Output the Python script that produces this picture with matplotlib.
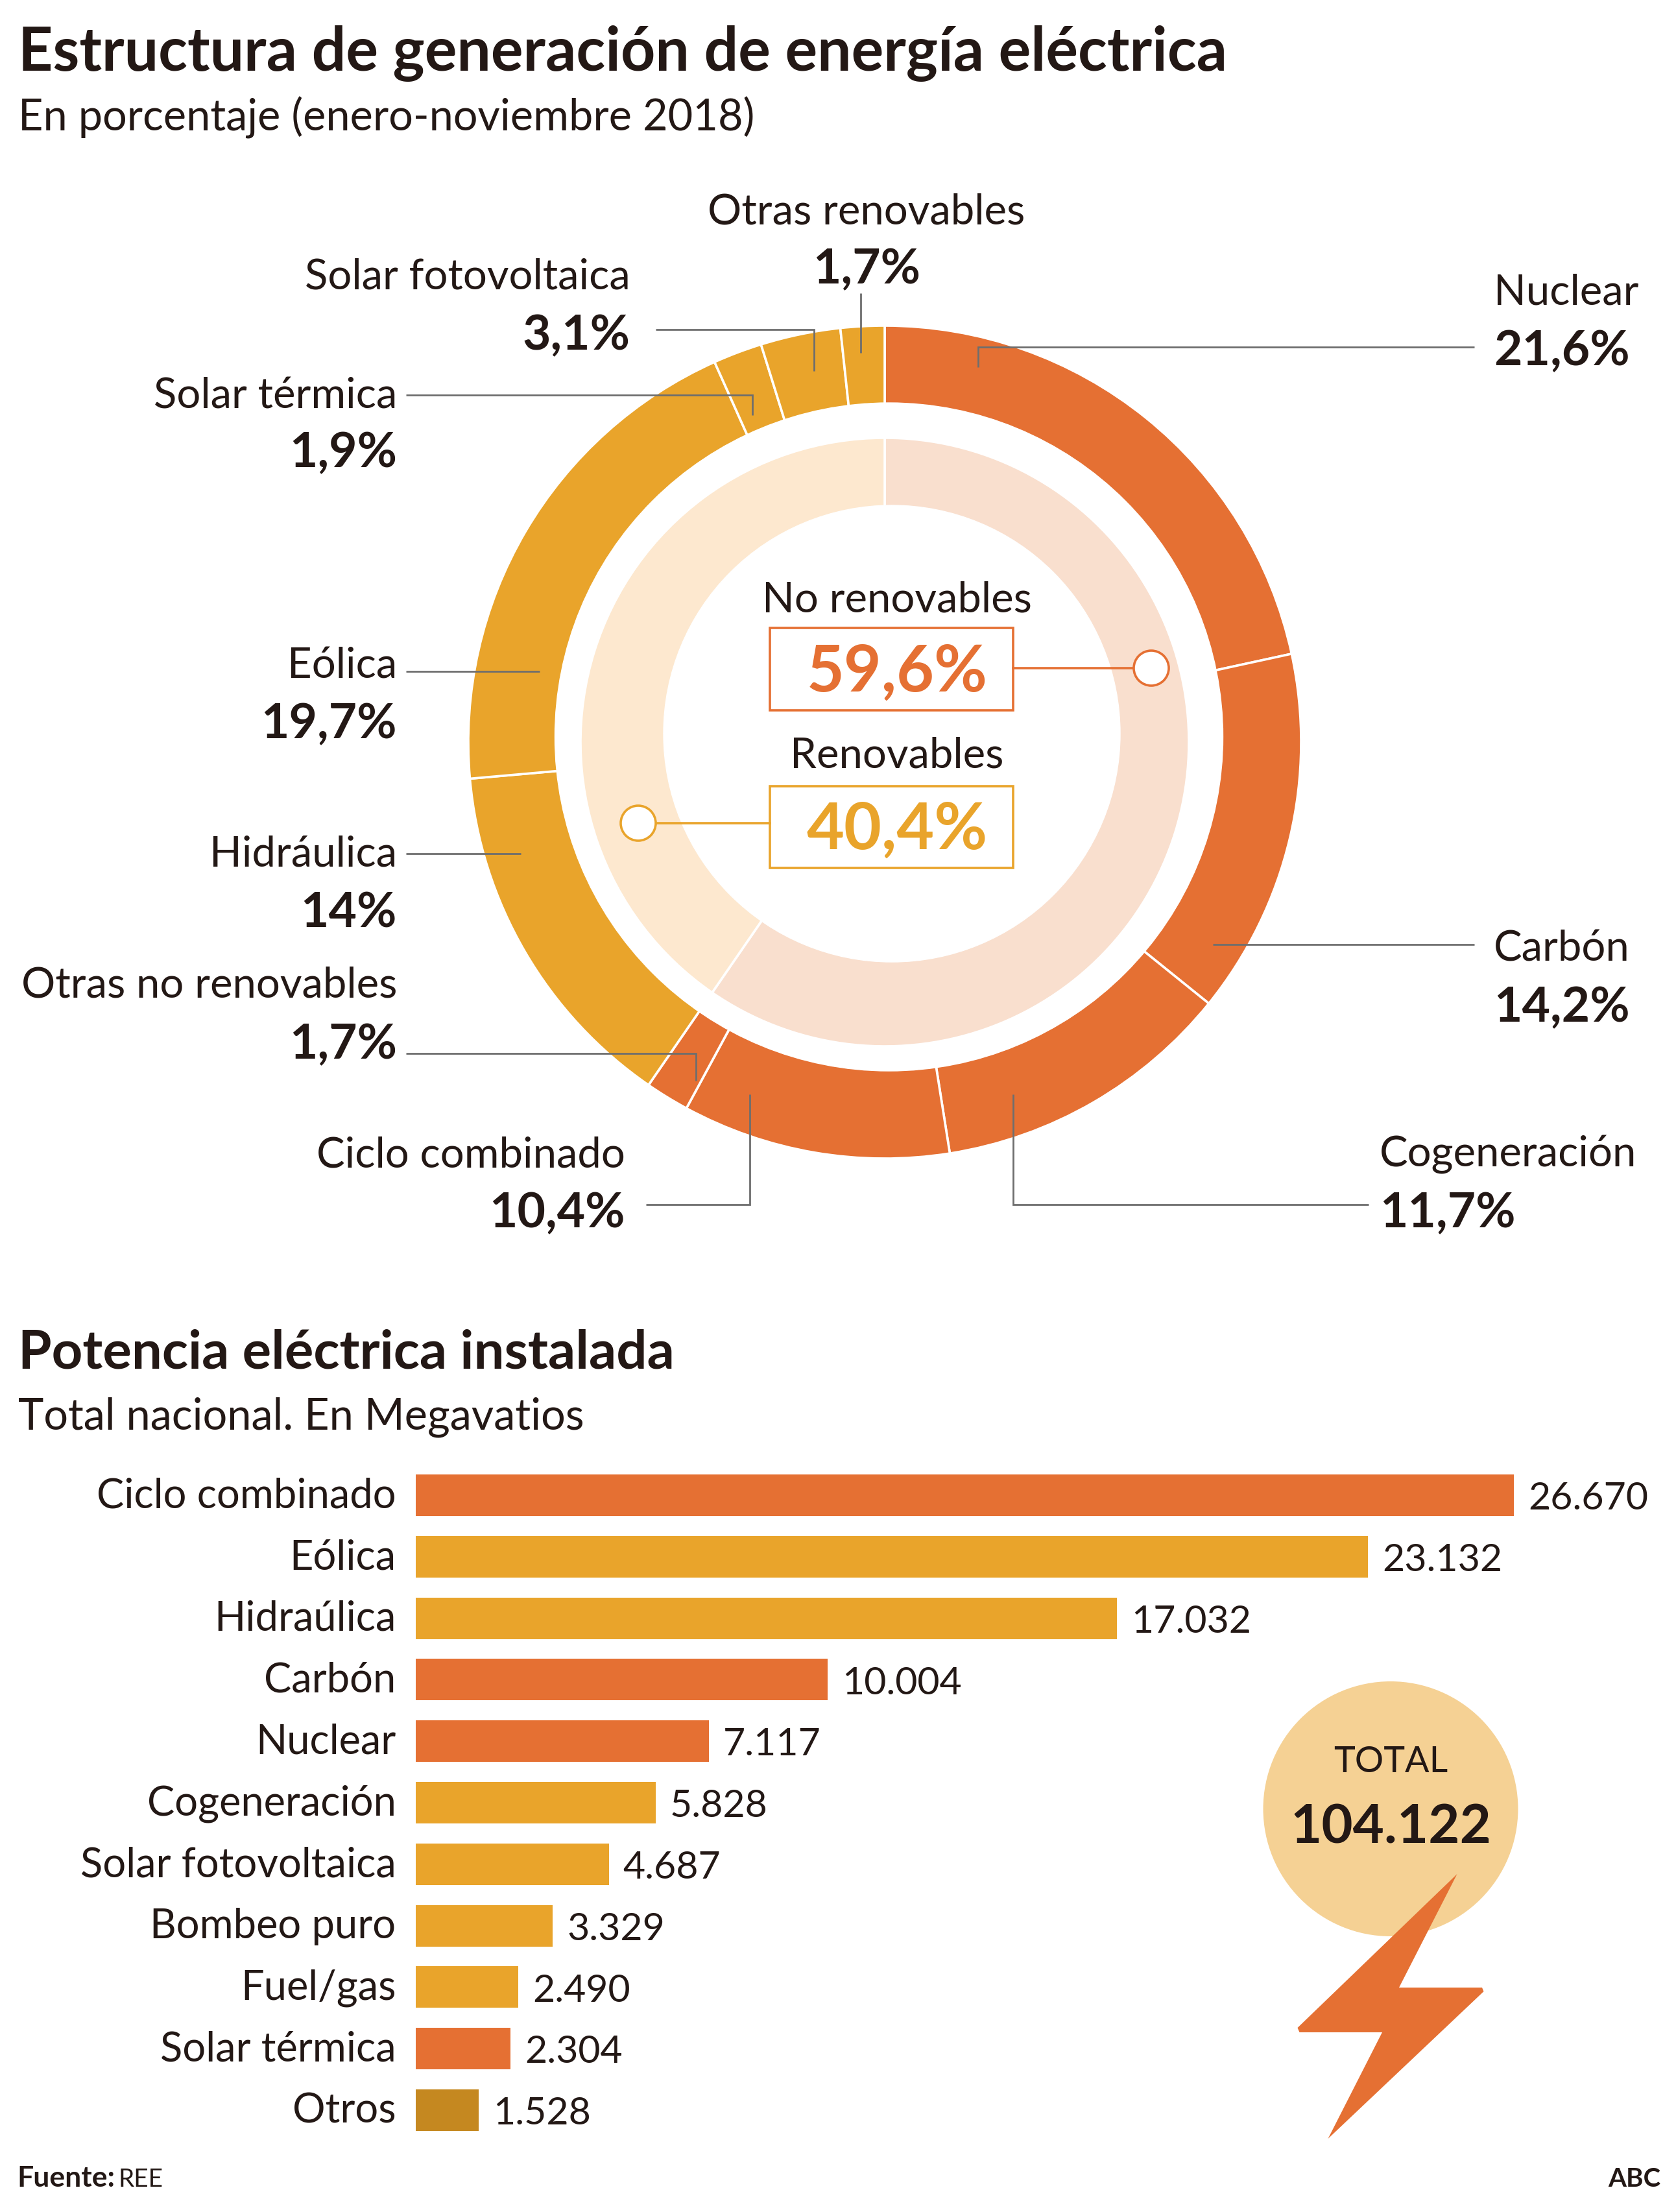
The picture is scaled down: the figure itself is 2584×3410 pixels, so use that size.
import matplotlib
matplotlib.use("Agg")
import matplotlib.pyplot as plt
from matplotlib.patches import Circle, Polygon, Rectangle
from matplotlib.transforms import ScaledTranslation

plt.rcParams["font.family"] = ["Lato", "DejaVu Sans"]

W, H = 2584, 3410
ORANGE = "#E57033"
AMBER = "#E9A42B"
DARK_AMBER = "#C58820"
TEXT = "#231815"
LINE = "#6E6E6E"

# Generation mix, clockwise from the top
mix_labels = ["Nuclear", "Carbón", "Cogeneración", "Ciclo combinado", "Otras no renovables",
              "Hidráulica", "Eólica", "Solar térmica", "Solar fotovoltaica", "Otras renovables"]
mix_values = [21.6, 14.2, 11.7, 10.4, 1.7, 14, 19.7, 1.9, 3.1, 1.7]
mix_colors = [ORANGE] * 5 + [AMBER] * 5

group_labels = ["No renovables", "Renovables"]
group_values = [59.6, 40.4]

# Installed power
power_labels = ["Ciclo combinado", "Eólica", "Hidraúlica", "Carbón", "Nuclear", "Cogeneración",
                "Solar fotovoltaica", "Bombeo puro", "Fuel/gas", "Solar térmica", "Otros"]
power_values = [26670, 23132, 17032, 10004, 7117, 5828, 4687, 3329, 2490, 2304, 1528]
power_colors = [ORANGE, AMBER, AMBER, ORANGE, ORANGE, AMBER, AMBER, AMBER, AMBER, ORANGE, DARK_AMBER]
power_total = 104122


def pct(v):
    return f"{v:g}".replace(".", ",") + "%"


def thousands(v):
    return f"{v:,}".replace(",", ".")


fig = plt.figure(figsize=(W / 100, H / 100), dpi=100, facecolor="white")

# Donut
cx, cy, R = 1364, 1144, 642
ax_d = fig.add_axes([(cx - R) / W, 1 - (cy + R) / H, 2 * R / W, 2 * R / H])
ax_d.pie(mix_values, colors=mix_colors, startangle=90, counterclock=False, radius=1,
         wedgeprops={"edgecolor": "white", "linewidth": 2.6})
ax_d.add_patch(Circle(((1370.5 - cx) / R, (cy - 1136) / R), 515 / R, color="white", zorder=3))
inner, _ = ax_d.pie(group_values, colors=["#F9DFCE", "#FDE8CF"], startangle=90, counterclock=False,
                    radius=469 / R, wedgeprops={"edgecolor": "white", "linewidth": 2.6, "zorder": 4})
ax_d.add_patch(Circle(((1375 - cx) / R, (cy - 1131) / R), 352 / R, color="white", zorder=5))
ax_d.set_xlim(-1, 1)
ax_d.set_ylim(-1, 1)

# Bars
bar_left = 641
bar_scale = 1693 / power_values[0]
top, step, bar_h = 2273, 94.8, 64
ax_b = fig.add_axes([bar_left / W, 1 - (top + step * 10.5 + bar_h / 2 + 0) / H,
                     (W - bar_left) / W, (step * 11) / H])
ypos = list(range(len(power_values)))
ax_b.barh(ypos, power_values, height=bar_h / step, color=power_colors)
ax_b.set_xlim(0, (W - bar_left) / bar_scale)
ax_b.set_ylim(len(power_values) - 0.5, -0.5)
ax_b.set_yticks(ypos, power_labels, fontsize=45.5, color=TEXT)
ax_b.tick_params(axis="y", length=0, pad=22)
nudge = ScaledTranslation(0, 3 / 72, fig.dpi_scale_trans)
for lab in ax_b.get_yticklabels():
    lab.set_transform(lab.get_transform() + nudge)
ax_b.set_xticks([])
for s in ax_b.spines.values():
    s.set_visible(False)
ax_b.patch.set_alpha(0)
for y, v in zip(ypos, power_values):
    ax_b.annotate(thousands(v), (v, y), xytext=(16, -16), textcoords="offset points",
                  ha="left", va="baseline", fontsize=42.5, color=TEXT)

# Everything else is placed in pixels
ax = fig.add_axes([0, 0, 1, 1])
ax.set_xlim(0, W)
ax.set_ylim(H, 0)
ax.axis("off")

ax.text(28, 109, "Estructura de generación de energía eléctrica", fontsize=67, fontweight="bold", color=TEXT)
ax.text(28, 202, "En porcentaje (enero-noviembre 2018)", fontsize=48, color=TEXT)
ax.text(28, 2110, "Potencia eléctrica instalada", fontsize=60, fontweight="bold", color=TEXT)
ax.text(28, 2203, "Total nacional. En Megavatios", fontsize=48, color=TEXT)

# label index, x, baseline of name, baseline of value, alignment
label_pos = [
    (0, 2303, 470, 563, "left"),
    (1, 2303, 1481, 1575, "left"),
    (2, 2127, 1799, 1892, "left"),
    (3, 964, 1799, 1892, "right"),
    (4, 612, 1538, 1632, "right"),
    (5, 612, 1335, 1429, "right"),
    (6, 612, 1046, 1138, "right"),
    (7, 612, 629, 720, "right"),
    (8, 972, 446, 539, "right"),
    (9, 1336, 346, 437, "center"),
]
for i, x, y1, y2, ha in label_pos:
    ax.text(x, y1, mix_labels[i], fontsize=47, ha=ha, color=TEXT)
    ax.text(x, y2, pct(mix_values[i]), fontsize=54, fontweight="bold", ha=ha, color=TEXT)

leaders = [
    ([2273, 1508, 1508], [535, 535, 566]),
    ([1870, 2273], [1456, 1456]),
    ([1562, 1562, 2110], [1687, 1857, 1857]),
    ([1156, 1156, 996], [1687, 1857, 1857]),
    ([626, 1073, 1073], [1624, 1624, 1666]),
    ([626, 803], [1316, 1316]),
    ([626, 832], [1035, 1035]),
    ([626, 1160, 1160], [609, 609, 640]),
    ([1011, 1255, 1255], [508, 508, 572]),
    ([1327, 1327], [452, 544]),
]
for xs, ys in leaders:
    ax.plot(xs, ys, color=LINE, lw=2, solid_joinstyle="miter", solid_capstyle="butt")

# Centre boxes
boxes = [(0, ORANGE, 968, 1095, 944, 1066, 1030, 1562, 1775),
         (1, AMBER, 1212, 1338, 1184, 1309, 1269, 1187, 984)]
for i, col, y0, y1, yname, yval, yline, xstart, xdot in boxes:
    ax.text(1383, yname, group_labels[i], fontsize=47, ha="center", color=TEXT)
    ax.add_patch(Rectangle((1187, y0), 375, y1 - y0, fill=False, edgecolor=col, lw=2.6))
    ax.text(1383, yval, pct(group_values[i]), fontsize=72, fontweight="bold", ha="center", color=col)
    ax.plot([xstart, xdot], [yline, yline], color=col, lw=2.6)
    ax.add_patch(Circle((xdot, yline), 27, facecolor="white", edgecolor=col, lw=2.6, zorder=4))

# Total circle and bolt
ax.add_patch(Circle((2144, 2788.5), 196.5, color="#F5D194", lw=0))
ax.text(2144, 2732, "TOTAL", fontsize=40, ha="center", color=TEXT)
ax.text(2145, 2841, thousands(power_total), fontsize=60, fontweight="bold", ha="center", color=TEXT)
ax.add_patch(Polygon([(2246.5, 2889), (2157, 3064), (2285, 3064), (2287.5, 3070), (2047.5, 3297),
                      (2131, 3133), (2003.5, 3133), (2000.5, 3126)], closed=True, color=ORANGE, lw=0))

ax.text(26, 3371, "Fuente:", fontsize=32, fontweight="bold", color=TEXT)
ax.text(182, 3371, "REE", fontsize=28, color=TEXT)
ax.text(2560, 3371, "ABC", fontsize=29, fontweight="bold", ha="right", color=TEXT)

fig.savefig("out.png", dpi=100)
